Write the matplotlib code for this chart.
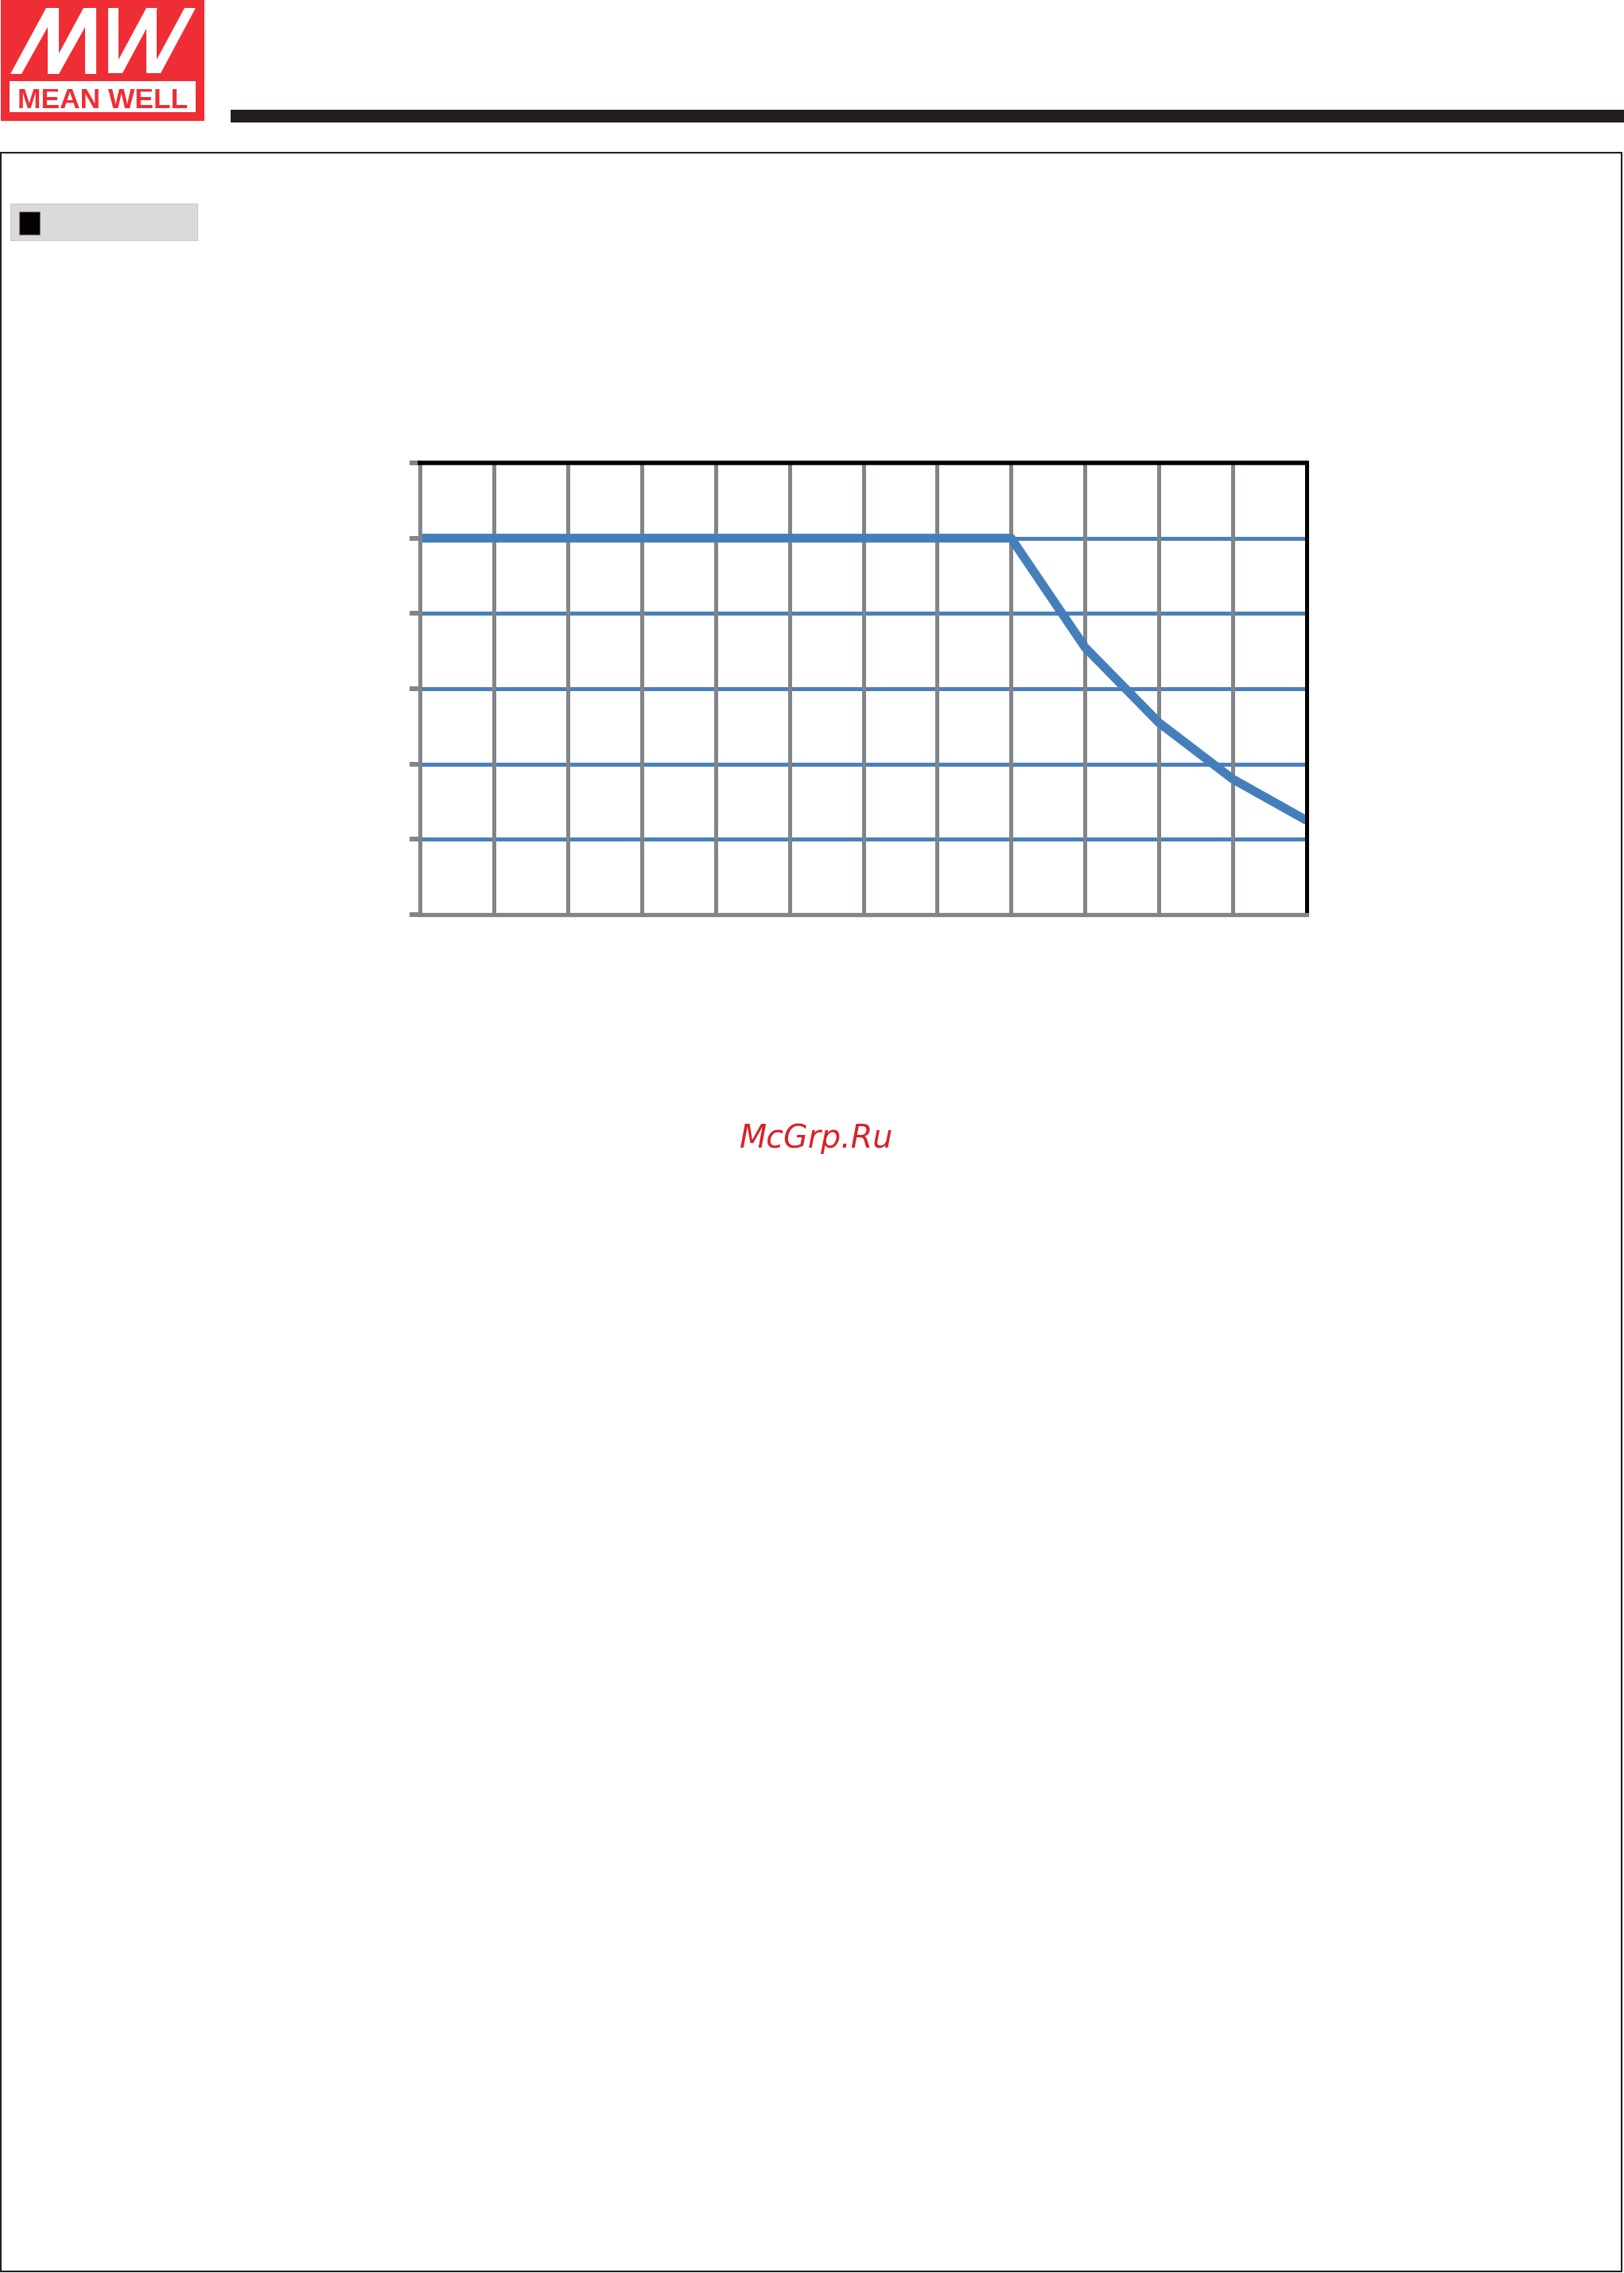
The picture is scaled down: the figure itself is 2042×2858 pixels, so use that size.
import numpy as np
import matplotlib
matplotlib.use("Agg")
import matplotlib.pyplot as plt
from matplotlib.patches import Rectangle, Polygon

# ---- data: derating curve ----
temp = [-40, 40, 50, 60, 70, 80]          # ambient temperature (deg C)
load = [100, 100, 71, 51, 36, 25]         # output load (%)
x_ticks = list(range(-40, 81, 10))
y_ticks = list(range(0, 121, 20))

# colours
GRAY = "#838488"
GRID_BLUE = "#4a7fbd"
CURVE_BLUE = "#447ebb"
MW_RED = "#ee2e34"
DARK = "#231f20"

W, H = 2042, 2858
fig = plt.figure(figsize=(W / 100, H / 100), dpi=100)
fig.patch.set_facecolor("white")

# ---- page decorations (pixel coords, y down) ----
bg = fig.add_axes([0, 0, 1, 1], zorder=0)
bg.set_xlim(0, W)
bg.set_ylim(H, 0)
bg.axis("off")

# logo block
bg.add_patch(Rectangle((1, 0), 256, 152, facecolor=MW_RED, edgecolor="none"))
m_part = [(13, 93), (27, 93), (60, 34), (60, 93), (74, 93), (74, 10), (58, 10)]
w_part = [(136, 10), (149, 10), (149, 75), (184, 10), (198, 10), (154, 92), (136, 92)]
for shape, shift in [(m_part, 0), (m_part, 47), (w_part, 0), (w_part, 48)]:
    pts = [(px + shift, py) for px, py in shape]
    bg.add_patch(Polygon(pts, closed=True, facecolor="white", edgecolor="none"))
bg.add_patch(Rectangle((12, 102), 234, 39, facecolor="white", edgecolor="none"))
bg.text(129, 136, "MEAN WELL", color=MW_RED, fontsize=25.5, fontweight="bold",
        family="Liberation Sans", ha="center", va="baseline")

# header bar
bg.add_patch(Rectangle((290, 138), W - 290, 16, facecolor=DARK, edgecolor="none"))

# page frame
bg.add_patch(Rectangle((1, 192), 2038, 2664, facecolor="none", edgecolor=DARK, lw=1.5))

# section label box
bg.add_patch(Rectangle((13, 256), 235, 46, facecolor="#dadada", edgecolor="#c9c9c9", lw=0.8))
bg.add_patch(Rectangle((24, 266), 26, 29, facecolor="#070000", edgecolor="#808080", lw=0.8))

# watermark
bg.text(1027, 1443, "McGrp.Ru", color="#da2128", fontsize=28.5, style="italic",
        family="DejaVu Sans", ha="center", va="baseline")

# ---- chart ----
left, right, top, bottom = 528, 1643, 582, 1150
ax = fig.add_axes([left / W, 1 - bottom / H, (right - left) / W, (bottom - top) / H], zorder=1)
ax.set_facecolor("none")
ax.set_xlim(x_ticks[0], x_ticks[-1])
ax.set_ylim(y_ticks[0], y_ticks[-1])

for yv in y_ticks[1:-1]:
    ax.axhline(yv, color=GRID_BLUE, lw=3.6, zorder=1)
for xv in x_ticks[1:-1]:
    ax.axvline(xv, color=GRAY, lw=3.6, zorder=2)

ax.plot(temp, load, color=CURVE_BLUE, lw=8, solid_capstyle="butt",
        solid_joinstyle="round", zorder=3, clip_on=False)

ax.set_xticks(x_ticks)
ax.set_yticks(y_ticks)
ax.tick_params(axis="y", direction="out", length=9.4, width=4.3, color=GRAY, labelleft=False)
ax.tick_params(axis="x", length=0, labelbottom=False)

ax.spines["left"].set_color(GRAY)
ax.spines["left"].set_linewidth(3.6)
ax.spines["bottom"].set_color(GRAY)
ax.spines["bottom"].set_linewidth(3.8)
ax.spines["top"].set_color("black")
ax.spines["top"].set_linewidth(4.0)
ax.spines["right"].set_color("black")
ax.spines["right"].set_linewidth(3.6)
for sp in ax.spines.values():
    sp.set_zorder(4)

fig.savefig("out.png", dpi=100, facecolor="white")
